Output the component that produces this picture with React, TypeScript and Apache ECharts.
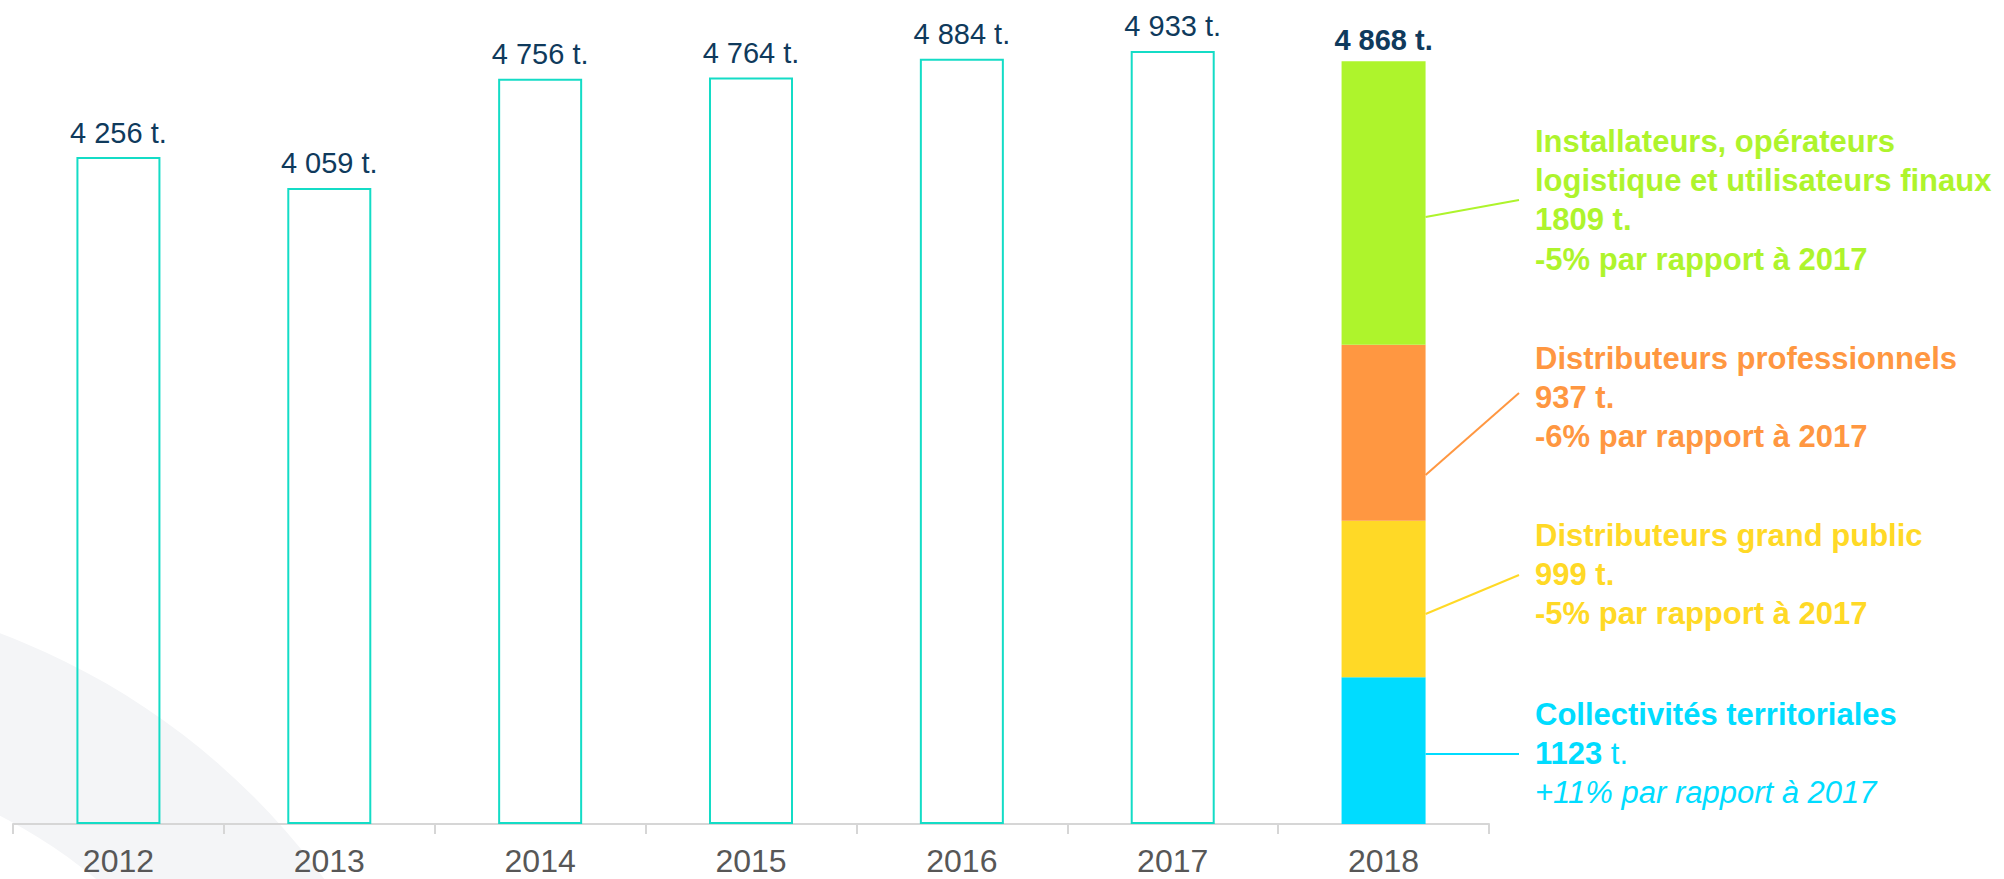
import React, { useEffect, useRef } from 'react';
import * as echarts from 'echarts';

// ---------- DATA ----------
const years = ['2012', '2013', '2014', '2015', '2016', '2017', '2018'];
const totals = [4256, 4059, 4756, 4764, 4884, 4933, 4868];
// 2018 breakdown as drawn in the stacked bar (bottom to top)
const seg2018Names = ['Collectivités territoriales', 'Distributeurs grand public', 'Distributeurs professionnels', 'Installateurs, opérateurs logistique et utilisateurs finaux'];
const seg2018Values = [937, 999, 1123, 1809];
const seg2018Colors = ['#00dcff', '#ffd926', '#ff9741', '#aef42c'];

// annotation texts
const annotInstallateurs = ['Installateurs, opérateurs', 'logistique et utilisateurs finaux', '1809 t.', '-5% par rapport à 2017'];
const annotPro = ['Distributeurs professionnels', '937 t.', '-6% par rapport à 2017'];
const annotGP = ['Distributeurs grand public', '999 t.', '-5% par rapport à 2017'];
const annotColl = ['Collectivités territoriales', '1123', ' t.', '+11% par rapport à 2017'];

const OUTLINE = '#14dcc6';
const NAVY = '#0f3a5c';
const BAR_W = 84;
const FONT = "'Liberation Sans', Arial, sans-serif";

const fmt = (v: number) => {
  const s = String(v);
  return s.replace(/\B(?=(\d{3})+(?!\d))/g, ' ') + ' t.';
};

export default function App() {
  const ref = useRef<HTMLDivElement>(null);
  useEffect(() => {
    if (!ref.current) return;
    const chart = echarts.init(ref.current, null, { renderer: 'svg' });
    const last = years.length - 1;
    const history = totals.map((v, i) => (i < last ? v : '-'));
    const series: any[] = [
      {
        name: 'Total',
        type: 'bar',
        stack: 's',
        barWidth: BAR_W,
        data: history,
        itemStyle: { color: 'rgba(255,255,255,0)', borderColor: OUTLINE, borderWidth: 2 },
        label: {
          show: true,
          position: 'top',
          distance: 10,
          color: NAVY,
          fontFamily: FONT,
          fontSize: 29,
          formatter: (p: any) => fmt(p.value),
        },
      },
    ];
    seg2018Values.forEach((v, k) => {
      const isTop = k === seg2018Values.length - 1;
      series.push({
        name: seg2018Names[k],
        type: 'bar',
        stack: 's',
        barWidth: BAR_W,
        data: years.map((_, i) => (i === last ? v : '-')),
        itemStyle: { color: seg2018Colors[k] },
        label: isTop
          ? {
              show: true,
              position: 'top',
              distance: 7,
              color: NAVY,
              fontFamily: FONT,
              fontWeight: 'bold',
              fontSize: 29,
              formatter: () => fmt(totals[last]),
            }
          : { show: false },
      });
    });

    chart.setOption({
      animation: false,
      backgroundColor: '#ffffff',
      grid: { left: 13, right: 515, top: 40.5, bottom: 55 },
      xAxis: {
        type: 'category',
        data: years,
        axisLine: { lineStyle: { color: '#d6d6d6', width: 2 } },
        axisTick: { show: true, length: 10, lineStyle: { color: '#d6d6d6', width: 2 } },
        axisLabel: { color: '#575757', fontSize: 32, lineHeight: 30, fontFamily: FONT, margin: 22 },
        z: 1,
      },
      yAxis: { type: 'value', min: 0, max: 5000, show: false, splitLine: { show: false } },
      series,
    });

    const xc = chart.convertToPixel({ xAxisIndex: 0 }, years[last]) as number;
    const bx = xc + BAR_W / 2;
    const ex = 1519;
    const tx = 1535;
    const lh = 39.4;

    const lines = (arr: string[], y0: number, color: string) =>
      arr.map((t, i) => ({
        type: 'text',
        z: 10,
        style: {
          x: tx,
          y: y0 + i * lh,
          text: t,
          fill: color,
          font: `bold 31px ${FONT}`,
          verticalAlign: 'middle',
          align: 'left',
        },
      }));

    const leader = (y1: number, y2: number, color: string) => ({
      type: 'line',
      z: 10,
      shape: { x1: bx, y1, x2: ex, y2 },
      style: { stroke: color, lineWidth: 2 },
    });

    const graphic: any[] = [
      {
        type: 'ring',
        z: -1,
        silent: true,
        shape: { cx: -250, cy: 1300, r: 712, r0: 545 },
        style: { fill: '#f4f5f7' },
      },
      leader(217, 200, seg2018Colors[3]),
      leader(475, 393, seg2018Colors[2]),
      leader(614, 575, seg2018Colors[1]),
      leader(754, 754, seg2018Colors[0]),
      ...lines(annotInstallateurs, 141, seg2018Colors[3]),
      ...lines(annotPro, 358, seg2018Colors[2]),
      ...lines(annotGP, 535, seg2018Colors[1]),
      ...lines([annotColl[0]], 714, seg2018Colors[0]),
      {
        type: 'text',
        z: 10,
        style: {
          x: tx,
          y: 714 + lh,
          text: `{b|${annotColl[1]}}{n|${annotColl[2]}}`,
          verticalAlign: 'middle',
          align: 'left',
          rich: {
            b: { fill: seg2018Colors[0], font: `bold 31px ${FONT}` },
            n: { fill: seg2018Colors[0], font: `31px ${FONT}` },
          },
        },
      },
      {
        type: 'text',
        z: 10,
        style: {
          x: tx,
          y: 714 + 2 * lh,
          text: annotColl[3],
          fill: seg2018Colors[0],
          font: `italic 31px ${FONT}`,
          verticalAlign: 'middle',
          align: 'left',
        },
      },
    ];
    chart.setOption({ graphic });

    return () => chart.dispose();
  }, []);

  return (
    <div
      ref={ref}
      style={{ position: 'fixed', left: 0, top: 0, width: 2004, height: 879, background: '#fff' }}
    />
  );
}
